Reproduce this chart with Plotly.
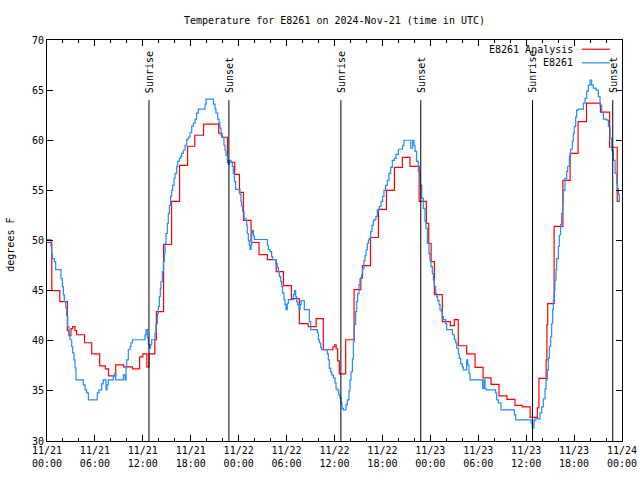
import pandas as pd
import plotly.graph_objects as go

start = pd.Timestamp("2024-11-21 00:00")

# Analysis series: (hours since start, degrees F), step values
red_h = [0.0, 0.6, 1.6, 2.55, 2.75, 3.0, 3.2, 3.5, 3.7, 4.7, 5.6, 6.6, 7.3, 7.7, 8.6, 9.6, 10.7,
         11.6, 12.0, 12.5, 12.77, 13.5, 13.7, 14.6, 15.6, 16.6, 17.6, 18.5, 19.6, 21.5, 21.9, 22.6,
         23.5, 24.1, 24.6, 25.55, 26.55, 27.6, 28.7, 29.6, 30.6, 31.6, 32.7, 33.7, 34.6, 35.8,
         36.0, 36.2, 36.4, 36.6, 37.4, 38.45, 39.3, 39.5, 40.5, 41.5, 42.5, 43.5, 44.5, 45.45,
         46.6, 47.5, 47.8, 48.1, 48.5, 49.5, 50.5, 51.0, 51.5, 52.55, 53.6, 54.6, 55.6, 56.6,
         57.6, 58.6, 59.5, 60.5, 61.4, 61.6, 62.5, 62.6, 62.7, 63.5, 64.6, 65.5, 66.5, 67.55,
         69.3, 70.45, 71.4, 71.75]
red_v = [49.8, 45.0, 43.9, 41.0, 40.5, 41.2, 41.4, 41.0, 40.6, 39.8, 38.7, 37.5, 37.2, 36.5, 37.6, 37.4, 37.2,
         38.4, 38.7, 37.4, 38.7, 40.1, 42.9, 49.6, 53.9, 57.5, 59.4, 60.5, 61.6, 60.7, 60.3, 57.8,
         56.6, 54.8, 52.0, 49.8, 48.6, 48.1, 46.9, 45.5, 44.2, 41.7, 41.4, 42.2, 39.1, 39.4,
         39.6, 39.2, 38.0, 36.7, 40.1, 45.1, 46.3, 47.5, 50.3, 53.1, 55.0, 57.3, 58.3, 57.4,
         53.9, 51.7, 49.7, 47.9, 44.6, 41.9, 41.5, 42.1, 39.5, 38.7, 37.35, 36.3, 35.65, 34.5,
         34.15, 33.55, 33.4, 32.35, 33.3, 36.25, 38.1, 41.6, 43.7, 51.4, 56.0, 58.7, 61.85, 63.7,
         62.8, 59.3, 53.9, 53.9]

# Station observations
blue_h = [0.0, 0.5, 0.58, 0.67, 0.92, 1.09, 1.75, 1.92, 2.05, 2.17, 2.34, 2.46, 2.59, 2.76, 2.88,
          3.09, 3.21, 3.38, 3.51, 3.63, 4.55, 4.76, 4.97, 5.18, 6.30, 6.51, 6.85, 7.05, 7.39, 7.51,
          7.68, 8.31, 8.43, 8.6, 9.56, 9.77, 9.9, 9.98, 10.18, 10.39, 10.52, 10.69, 12.27, 12.4,
          12.56, 12.69, 12.82, 12.98, 13.11, 13.52, 13.65, 13.82, 13.94, 14.07, 14.19, 14.27,
          14.44, 14.57, 14.69, 14.78, 14.90, 15.07, 15.19, 15.32, 15.48, 15.61, 15.73, 15.90,
          16.03, 16.24, 16.36, 16.57, 16.74, 16.86, 17.07, 17.28, 17.49, 17.70, 17.91, 18.12,
          18.33, 18.54, 18.74, 18.95, 19.79, 19.92, 20.83, 21.04, 21.16, 21.37, 21.54, 21.66,
          21.79, 21.96, 22.16, 22.29, 22.41, 22.58, 22.71, 22.83, 23.04, 23.21, 23.33, 23.46,
          23.62, 24.17, 24.29, 24.38, 24.50, 24.67, 24.92, 25.0, 25.08, 25.21, 25.33, 25.42,
          25.55, 25.63, 25.71, 25.84, 25.96, 27.59, 27.71, 27.92, 28.13, 28.26, 28.68, 28.84,
          28.97, 29.09, 29.26, 29.39, 29.51, 29.68, 29.80, 29.93, 30.09, 30.22, 30.85, 30.97,
          31.14, 31.26, 31.39, 31.56, 31.68, 31.81, 32.22, 32.85, 33.02, 33.85, 33.98, 34.10,
          34.27, 34.40, 35.10, 35.23, 35.35, 35.52, 35.65, 35.86, 36.07, 36.19, 36.36, 36.53,
          36.69, 36.82, 36.94, 37.11, 37.44, 37.61, 37.81, 37.94, 38.07, 38.24, 38.36, 38.48,
          38.65, 38.78, 38.90, 39.07, 39.19, 39.40, 39.53, 39.69, 39.82, 39.95, 40.11, 40.24,
          40.36, 40.53, 40.69, 40.86, 41.07, 41.19, 41.36, 41.61, 41.82, 42.03, 42.19, 42.40,
          42.61, 42.82, 43.03, 43.24, 43.49, 43.7, 44.0, 44.53, 44.7, 45.54, 45.79, 45.96,
          46.08, 46.29, 46.5, 46.71, 46.92, 47.12, 47.33, 47.46, 47.63, 47.83, 47.96, 48.08,
          48.25, 48.38, 48.50, 48.67, 48.79, 48.92, 49.09, 49.21, 49.34, 49.50, 49.63, 49.92,
          50.05, 50.76, 51.01, 51.18, 51.30, 51.51, 51.63, 51.80, 52.01, 52.13, 52.55, 52.67,
          52.84, 52.97, 54.55, 54.72, 54.85, 54.97, 56.18, 56.31, 56.52, 56.85, 58.52, 58.69,
          60.48, 60.61, 60.77, 60.98, 61.11, 61.73, 61.94, 62.15, 62.36, 62.49, 62.65, 62.78,
          62.9, 63.07, 63.19, 63.32, 63.4, 63.53, 63.61, 63.74, 63.82, 64.03, 64.15, 64.32,
          64.45, 64.57, 64.65, 64.86, 65.07, 65.2, 65.41, 65.57, 65.78, 65.91, 66.03, 66.2,
          66.32, 66.53, 67.16, 67.37, 67.58, 67.79, 68.0, 68.2, 68.41, 68.75, 69.04, 69.25,
          69.46, 69.67, 70.09, 70.3, 70.51, 70.71, 70.92, 71.13, 71.34, 71.42, 71.55, 71.67,
          71.75]
blue_v = [50.1, 49.4, 48.7, 48.2, 47.9, 47.1, 46.2, 45.4, 44.6, 43.9, 43.3, 42.5, 41.4, 40.6, 40.1,
          39.4, 38.8, 38.1, 37.3, 36.1, 35.6, 35.1, 34.8, 34.1, 34.8, 35.1, 35.7, 36.1, 35.1, 35.6,
          36.1, 36.5, 36.7, 36.1, 36.6, 36.1, 37.3, 38.1, 39.1, 39.4, 39.8, 40.1, 40.6, 41.1,
          40.3, 39.6, 39.25, 39.6, 40.1, 40.75, 41.7, 42.7, 43.4, 44.4, 45.2, 45.9,
          46.9, 47.9, 48.7, 49.7, 50.7, 51.7, 52.7, 53.5, 54.4, 55.0, 55.5, 56.2,
          56.7, 57.4, 57.9, 58.2, 58.4, 58.7, 59.0, 59.5, 60.1, 60.3, 60.75, 61.4,
          61.7, 62.1, 62.7, 63.1, 63.6, 64.1, 63.6, 63.1, 62.7, 62.1, 61.7, 61.2,
          60.5, 60.3, 59.5, 59.0, 58.5, 58.0, 57.6, 58.0, 57.8, 57.4, 56.7, 55.9,
          55.1, 54.6, 53.9, 53.4, 52.9, 52.2, 52.0, 51.5, 50.7, 50.0, 49.55, 49.1,
          49.55, 50.7, 51.0, 50.5, 50.1, 49.55, 49.1, 48.9, 48.4, 48.1, 47.7, 47.3,
          46.9, 46.4, 45.9, 45.4, 44.75, 44.1, 43.6, 43.1, 43.7, 44.1, 44.6, 45.0,
          44.4, 43.9, 43.6, 43.1, 43.6, 44.0, 43.1, 41.9, 41.1, 40.8, 40.1, 39.8,
          39.3, 39.1, 38.7, 38.1, 37.25, 36.9, 36.6, 36.3, 35.8, 35.2, 35.1, 34.6,
          34.3, 33.8, 33.25, 33.1, 33.6, 34.1, 35.0, 36.1, 36.9, 38.2, 39.9, 41.6,
          42.9, 43.9, 44.7, 45.6, 46.2, 46.6, 47.2, 48.0, 48.5, 49.05, 49.7, 50.05,
          50.2, 50.9, 51.5, 52.0, 52.1, 52.4, 53.05, 53.4, 53.9, 54.4, 55.0, 55.5,
          56.0, 56.7, 57.3, 58.0, 58.2, 58.6, 59.1, 59.5, 60.0, 59.2, 60.0, 59.5,
          58.9, 57.9, 56.9, 55.5, 54.2, 53.2, 51.9, 51.2, 49.7, 48.7, 48.0, 47.4,
          46.7, 46.05, 45.4, 44.7, 44.4, 44.0, 43.6, 43.1, 42.95, 42.4, 42.1, 41.7,
          41.1, 40.6, 40.1, 39.8, 39.25, 38.7, 38.25, 37.7, 37.4, 37.1, 38.1, 37.6,
          36.75, 36.1, 35.25, 36.1, 35.25, 35.1, 34.8, 34.1, 33.8, 33.1, 32.6, 32.1,
          32.1, 31.8, 31.3, 32.0, 32.2, 32.8, 33.4, 34.2, 35.2, 36.1, 37.1, 38.25,
          39.4, 40.4, 41.7, 43.1, 44.05, 45.1, 46.05, 47.1, 48.2, 49.4, 50.55, 51.6,
          52.7, 53.7, 55.0, 56.2, 56.9, 57.4, 58.4, 59.1, 59.9, 60.7, 61.35, 62.3,
          63.0, 63.1, 63.7, 64.2, 64.9, 65.5, 66.0, 65.5, 65.2, 65.0, 64.35, 63.5,
          62.75, 62.1, 62.0, 61.35, 60.2, 59.0, 58.0, 56.7, 55.7, 55.2, 54.6, 53.9,
          53.9]

event_h = [12.77, 22.78, 36.8, 46.8, 60.8, 70.84]
event_labels = ["Sunrise", "Sunset", "Sunrise", "Sunset", "Sunrise", "Sunset"]

tick_h = [0, 6, 12, 18, 24, 30, 36, 42, 48, 54, 60, 66, 72]
tick_labels = ["11/21<br>00:00", "11/21<br>06:00", "11/21<br>12:00", "11/21<br>18:00",
               "11/22<br>00:00", "11/22<br>06:00", "11/22<br>12:00", "11/22<br>18:00",
               "11/23<br>00:00", "11/23<br>06:00", "11/23<br>12:00", "11/23<br>18:00",
               "11/24<br>00:00"]

series_names = ["E8261 Analysis", "E8261"]
series_colors = ["#ff0000", "#1e8cff"]


def to_time(hours):
    return [start + pd.Timedelta(hours=h) for h in hours]


FONT = "DejaVu Sans Mono"
fig = go.Figure()
for hs, vs, name, col in [(red_h, red_v, series_names[0], series_colors[0]),
                          (blue_h, blue_v, series_names[1], series_colors[1])]:
    fig.add_trace(go.Scatter(x=to_time(hs), y=vs, mode="lines", name=name,
                             line=dict(color=col, width=1.2, shape="hv"),
                             showlegend=False))

shapes = []
annotations = []
for h, lab in zip(event_h, event_labels):
    t = start + pd.Timedelta(hours=h)
    shapes.append(dict(type="line", xref="x", yref="paper", x0=t, x1=t, y0=0, y1=0.85,
                       line=dict(color="black", width=1)))
    annotations.append(dict(x=t, y=0.85, xref="x", yref="paper", text=lab, textangle=-90,
                            showarrow=False, xanchor="center", yanchor="bottom", yshift=5,
                            font=dict(family=FONT, size=10, color="black")))

# legend drawn gnuplot-style: text right-aligned, line sample on the right
leg_y = [0.977, 0.943]
for i, (name, col) in enumerate(zip(series_names, series_colors)):
    annotations.append(dict(x=0.918, y=leg_y[i], xref="paper", yref="paper", text=name,
                            showarrow=False, xanchor="right", yanchor="middle",
                            font=dict(family=FONT, size=10, color="black")))
    shapes.append(dict(type="line", xref="paper", yref="paper", x0=0.930, x1=0.979,
                       y0=leg_y[i], y1=leg_y[i], line=dict(color=col, width=1.2)))

annotations.append(dict(x=-0.064, y=0.49, xref="paper", yref="paper", text="degrees F",
                        textangle=-90, showarrow=False, xanchor="center", yanchor="middle",
                        font=dict(family=FONT, size=10, color="black")))

fig.update_layout(
    width=640, height=480,
    margin=dict(l=47, r=18, t=40, b=39),
    paper_bgcolor="white", plot_bgcolor="white",
    font=dict(family=FONT, size=10, color="black"),
    title=dict(text="Temperature for E8261 on 2024-Nov-21 (time in UTC)", x=0.5, xref="paper",
               xanchor="center", y=0.958, yanchor="middle",
               font=dict(family=FONT, size=10, color="black")),
    xaxis=dict(type="date", range=[start, start + pd.Timedelta(hours=72)], automargin=False,
               tickmode="array", tickvals=to_time(tick_h), ticktext=tick_labels,
               ticks="inside", ticklen=6, tickcolor="black", showline=True, linecolor="black",
               linewidth=1, mirror="allticks", showgrid=False, zeroline=False,
               minor=dict(tickmode="linear", tick0=start, dtick=2 * 3600 * 1000, ticks="inside",
                          ticklen=3, tickcolor="black", showgrid=False)),
    yaxis=dict(range=[30, 70], tick0=30, dtick=5, ticks="inside", ticklen=6, tickcolor="black",
               showline=True, linecolor="black", linewidth=1, mirror="allticks",
               showgrid=False, zeroline=False, automargin=False),
    shapes=shapes, annotations=annotations,
)

fig.write_html("out.html")
